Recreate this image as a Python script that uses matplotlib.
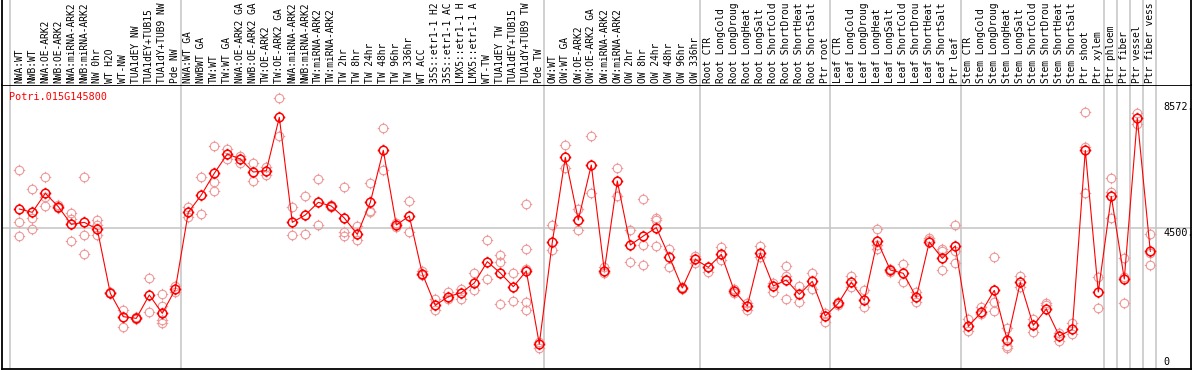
import matplotlib
matplotlib.use("Agg")
import matplotlib.pyplot as plt
from matplotlib.path import Path
import matplotlib.transforms as mtransforms

# ---------------- data ----------------
title = "Potri.015G145800"

# sample labels as shown (the chart cuts them to 14 characters)
samples = [
    "NWA:WT", "NWB:WT", "NWA:OE-ARK2", "NWB:OE-ARK2", "NWA:miRNA-ARK2", "NWB:miRNA-ARK2",
    "NW 0hr", "WT H2O", "WT-NW", "TUA1dEY NW", "TUA1dEY+TUB15", "TUA1dY+TUB9 NW", "Pde NW",
    "NWA:WT GA", "NWBWT GA", "TW:WT", "TW:WT GA", "NWA:OE-ARK2 GA", "NWB:OE-ARK2 GA",
    "TW:OE-ARK2", "TW:OE-ARK2 GA", "NWA:miRNA-ARK2", "NWB:miRNA-ARK2", "TW:miRNA-ARK2",
    "TW:miRNA-ARK2", "TW 2hr", "TW 8hr", "TW 24hr", "TW 48hr", "TW 96hr", "TW 336hr",
    "WT ACC", "35S::etr1-1 H2", "35S::etr1-1 AC", "LMX5::etr1-1 H", "LMX5::etr1-1 A",
    "WT-TW", "TUA1dEY TW", "TUA1dEY+TUB15", "TUA1dY+TUB9 TW", "Pde TW",
    "OW:WT", "OW:WT GA", "OW:OE-ARK2", "OW:OE-ARK2 GA", "OW:miRNA-ARK2", "OW:miRNA-ARK2",
    "OW 2hr", "OW 8hr", "OW 24hr", "OW 48hr", "OW 96hr", "OW 336hr",
    "Root CTR", "Root LongCold", "Root LongDroug", "Root LongHeat", "Root LongSalt",
    "Root ShortCold", "Root ShortDrou", "Root ShortHeat", "Root ShortSalt", "Ptr root",
    "Leaf CTR", "Leaf LongCold", "Leaf LongDroug", "Leaf LongHeat", "Leaf LongSalt",
    "Leaf ShortCold", "Leaf ShortDrou", "Leaf ShortHeat", "Leaf ShortSalt", "Ptr leaf",
    "Stem CTR", "Stem LongCold", "Stem LongDroug", "Stem LongHeat", "Stem LongSalt",
    "Stem ShortCold", "Stem ShortDrou", "Stem ShortHeat", "Stem ShortSalt", "Ptr shoot",
    "Ptr xylem", "Ptr phloem", "Ptr fiber", "Ptr vessel", "Ptr fiber vess",
]

mean_values = [
    5124, 5016, 5632, 5200, 4627, 4692, 4465, 2389, 1632, 1578, 2335, 1740, 2519,
    5016, 5578, 6281, 6908, 6745, 6324, 6367, 8097, 4692, 4929, 5340, 5221, 4832,
    4303, 5340, 7027, 4605, 4897, 3027, 2000, 2281, 2411, 2724, 3416, 3048, 2605,
    3113, 746,
    4043, 6800, 4767, 6551, 3124, 6032, 3956, 4248, 4519, 3578, 2562, 3491,
    3232, 3654, 2465, 1978, 3697, 2627, 2821, 2357, 2778, 1654,
    2065, 2746, 2162, 4086, 3146, 3038, 2260, 4054, 3524, 3924,
    1319, 1773, 2486, 865, 2746, 1351, 1881, 1005, 1221, 7027,
    2432, 5535, 2854, 8064, 3751,
]

replicates = [
    [6389, 4692, 4248], [5762, 4843, 4465], [6151, 5524, 5210], [5254, 5150],
    [4994, 4810, 4086], [6151, 4281, 3665], [4767, 4605, 4281], [2443, 2389],
    [1849, 1286], [1632, 1546], [2876, 1784], [2367, 1978, 1524, 1416], [2627, 2443],
    [5200, 4875], [6151, 4951], [7167, 5989, 5708], [7059, 6735], [6854, 6627],
    [6605, 6032], [6497, 6227], [8713, 7491], [5178, 4281], [5546, 4313],
    [6097, 4605], [5254, 5178], [5827, 4389, 4259], [4573, 4119], [5978, 5070, 5016],
    [7751, 6389], [4681, 4530], [5383, 4367], [3113, 2984], [2205, 1849],
    [2421, 2205], [2530, 2194], [3048, 2497], [4107, 2843], [3632, 3394, 2043],
    [3048, 2140], [5275, 3838, 3178, 2119, 1849], [800, 627],
    [4616, 3794], [7199, 6443], [5124, 4443], [7491, 5632], [3254, 3059],
    [6443, 5546], [4443, 3416], [5448, 3946, 3297], [4843, 4767, 3913],
    [3816, 3232], [2605, 2519], [3610, 3362],
    [3254, 3092], [3903, 3470], [2519, 2389], [2087, 1849], [3935, 3578],
    [2735, 2443], [3275, 2951, 2216], [2627, 2097], [3048, 2519], [1762, 1470],
    [2108, 2011], [2951, 2605], [2486, 1957], [4465, 3956, 3816], [3178, 3092],
    [3340, 2746], [2443, 2119], [4173, 4119], [3838, 3751, 3135], [4594, 3751, 3362],
    [1546, 1178], [1935, 1719], [3567, 2108, 1816], [1276, 692, 627], [2962, 2605],
    [1546, 1146], [2065, 2011], [1092, 853], [1438, 1059], [8259, 7124, 5632],
    [2930, 1903], [6118, 5686, 4843], [3546, 2908, 2065], [8226, 7870],
    [4313, 3686, 3297],
]

group_last_index = [12, 40, 52, 62, 72, 83, 84, 85, 86, 87]
ytick_values = [8572, 4500, 0]
ytick_labels = ["8572.", "4500.", "0"]

# ---------------- figure ----------------
W, H = 1194, 370
fig = plt.figure(figsize=(W / 100, H / 100), dpi=100)
mono = "DejaVu Sans Mono"

ax_left_px, ax_right_px = 1.5, 1191.0
plot_top_px, plot_bot_px = 85.0, 369.0

x0 = 19.3    # pixel of first sample
dx = 13.0    # pixel spacing
xlim = ((ax_left_px - x0) / dx, (ax_right_px - x0) / dx)

ax = fig.add_axes([ax_left_px / W, (H - plot_bot_px) / H,
                   (ax_right_px - ax_left_px) / W, (plot_bot_px - plot_top_px) / H])
axl = fig.add_axes([ax_left_px / W, (H - plot_top_px) / H,
                    (ax_right_px - ax_left_px) / W, plot_top_px / H])

# value scale: 0 at pixel 367, 32.43 units per pixel
upp = 32.43
ylim = ((367 - plot_bot_px) * upp, (367 - plot_top_px) * upp)

for a in (ax, axl):
    a.set_xlim(*xlim)
    a.set_xticks([])
    a.set_yticks([])
    for s in a.spines.values():
        s.set_color("black")
        s.set_linewidth(1.3)
ax.set_ylim(*ylim)
axl.set_ylim(0, 1)
axl.spines["bottom"].set_visible(False)
axl.spines["top"].set_visible(False)

# grid lines
grid_color = "#c4c4c4"
vlines = [-0.7] + [g + 0.4 for g in group_last_index]
for xv in vlines:
    ax.axvline(xv, color=grid_color, lw=1.1, zorder=1)
    axl.axvline(xv, color=grid_color, lw=1.1, zorder=1)
ax.axhline(ytick_values[1], color=grid_color, lw=1.1, zorder=1)

# custom marker: circle with four small ticks
circ = Path.unit_circle()
t = 1.35
ticks = Path([(0, 1), (0, t), (0, -1), (0, -t), (1, 0), (t, 0), (-1, 0), (-t, 0)],
             [Path.MOVETO, Path.LINETO] * 4)
marker_path = Path.make_compound_path(circ, ticks)

xs = list(range(len(samples)))
rx, ry = [], []
for i, reps in enumerate(replicates):
    for r in reps:
        rx.append(i)
        ry.append(r)
ax.plot(rx, ry, linestyle="none", marker=marker_path, markersize=8.3,
        markerfacecolor="none", markeredgecolor="#ef9a9a", markeredgewidth=0.8, zorder=2)
ax.plot(xs, mean_values, color="#ff0000", lw=0.8, zorder=3)
ax.plot(xs, mean_values, linestyle="none", marker=marker_path, markersize=8.3,
        markerfacecolor="none", markeredgecolor="#ff0000", markeredgewidth=1.1, zorder=4)

# sample labels
blend = mtransforms.blended_transform_factory(axl.transData, axl.transAxes)
for i, lab in enumerate(samples):
    axl.text(i, 2.0 / plot_top_px, lab, rotation=90, ha="center", va="bottom",
             fontsize=6.9, family=mono, color="black", transform=blend)

# title
fig.text(9.3 / W, 1 - 97.0 / H, title, color="#ff0000", fontsize=7.3, family=mono,
         ha="left", va="center")

# right-side value labels
label_centers_px = [107.0, 232.7, 362.0]
for lab, cy in zip(ytick_labels, label_centers_px):
    fig.text(1163.0 / W, 1 - cy / H, lab, color="black", fontsize=7.3, family=mono,
             ha="left", va="center")

fig.savefig("out.png", dpi=100)
